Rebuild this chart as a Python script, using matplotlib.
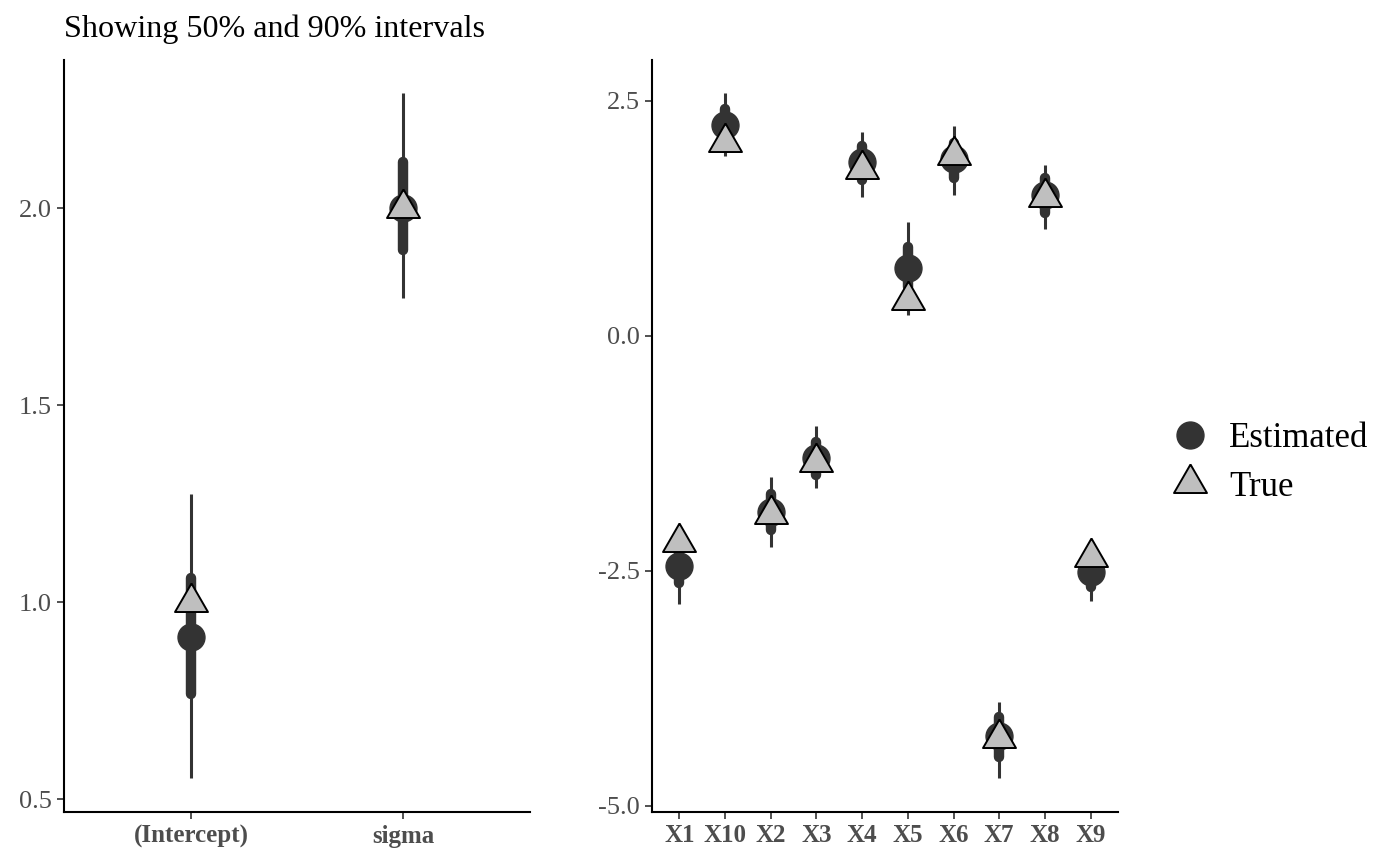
import numpy as np
import matplotlib
matplotlib.use("Agg")
import matplotlib.pyplot as plt
from matplotlib.lines import Line2D

plt.rcParams["font.family"] = ["Liberation Serif", "DejaVu Serif"]

# left panel: intercept and sigma
left_params = ["(Intercept)", "sigma"]
left_est = [0.911, 2.0]
left_true = [1.0, 2.0]
left_q05 = [0.553, 1.772]
left_q25 = [0.766, 1.893]
left_q75 = [1.061, 2.117]
left_q95 = [1.274, 2.292]

# right panel: regression coefficients
right_params = ["X1", "X10", "X2", "X3", "X4", "X5", "X6", "X7", "X8", "X9"]
right_est = [-2.45, 2.245, -1.87, -1.30, 1.85, 0.72, 1.88, -4.26, 1.50, -2.51]
right_true = [-2.19, 2.06, -1.89, -1.34, 1.78, 0.38, 1.93, -4.28, 1.48, -2.35]
right_q05 = [-2.85, 1.915, -2.24, -1.62, 1.48, 0.223, 1.50, -4.70, 1.135, -2.82]
right_q25 = [-2.63, 2.08, -2.06, -1.48, 1.66, 0.52, 1.68, -4.48, 1.31, -2.67]
right_q75 = [-2.27, 2.42, -1.68, -1.13, 2.02, 0.95, 2.05, -4.05, 1.68, -2.36]
right_q95 = [-2.05, 2.58, -1.50, -0.957, 2.17, 1.216, 2.23, -3.89, 1.82, -2.20]

DARK = "#333333"
LIGHT = "#bfbfbf"
# R style pch 24 triangle, centred on its centroid
TRI = [(0, 1.555), (1.347, -0.778), (-1.347, -0.778), (0, 1.555)]


def draw_panel(ax, params, est, true, q05, q25, q75, q95, ylim, yticks, ylabels):
    x = np.arange(len(params))
    ax.vlines(x, q05, q95, color=DARK, lw=2.2, zorder=2)
    for xi, lo, hi in zip(x, q25, q75):
        ax.plot([xi, xi], [lo, hi], color=DARK, lw=7.5,
                solid_capstyle="round", zorder=3)
    ax.plot(x, est, "o", ls="", ms=19.4, color=DARK, mec=DARK, zorder=4)
    ax.plot(x, true, marker=TRI, ls="", ms=27.4, mfc=LIGHT, mec="black",
            mew=1.4, zorder=5)

    ax.set_xlim(-0.6, len(params) - 0.4)
    ax.set_ylim(*ylim)
    ax.set_xticks(x)
    ax.set_xticklabels(params, fontsize=18, fontweight="bold", color="#4d4d4d")
    ax.set_yticks(yticks)
    ax.set_yticklabels(ylabels, fontsize=19, color="#4d4d4d")
    ax.tick_params(length=5, width=1.2, color=DARK, pad=4)
    for side in ["top", "right"]:
        ax.spines[side].set_visible(False)
    for side in ["left", "bottom"]:
        ax.spines[side].set_linewidth(1.5)
        ax.spines[side].set_color("black")


fig = plt.figure(figsize=(14, 8.66), dpi=100)
ax1 = fig.add_axes([64 / 1400, 1 - 812 / 866, 466 / 1400, 752 / 866])
ax2 = fig.add_axes([652 / 1400, 1 - 812 / 866, 466 / 1400, 752 / 866])

draw_panel(ax1, left_params, left_est, left_true, left_q05, left_q25,
           left_q75, left_q95, (0.467, 2.376), [0.5, 1.0, 1.5, 2.0],
           ["0.5", "1.0", "1.5", "2.0"])
draw_panel(ax2, right_params, right_est, right_true, right_q05, right_q25,
           right_q75, right_q95, (-5.064, 2.936), [-5.0, -2.5, 0.0, 2.5],
           ["-5.0", "-2.5", "0.0", "2.5"])

fig.text(64 / 1400, 1 - 37 / 866, "Showing 50% and 90% intervals",
         fontsize=23.1, ha="left", va="baseline")

handles = [
    Line2D([], [], marker="o", ls="", ms=19.4, color=DARK),
    Line2D([], [], marker=TRI, ls="", ms=27.4, mfc=LIGHT, mec="black", mew=1.4),
]
fig.legend(handles, ["Estimated", "True"], loc="center left",
           bbox_to_anchor=(1166 / 1400, 1 - 463 / 866), frameon=False,
           fontsize=25, borderpad=0, borderaxespad=0, handlelength=1.4,
           handletextpad=0.42, labelspacing=0.44)

fig.savefig("out.png", dpi=100)
